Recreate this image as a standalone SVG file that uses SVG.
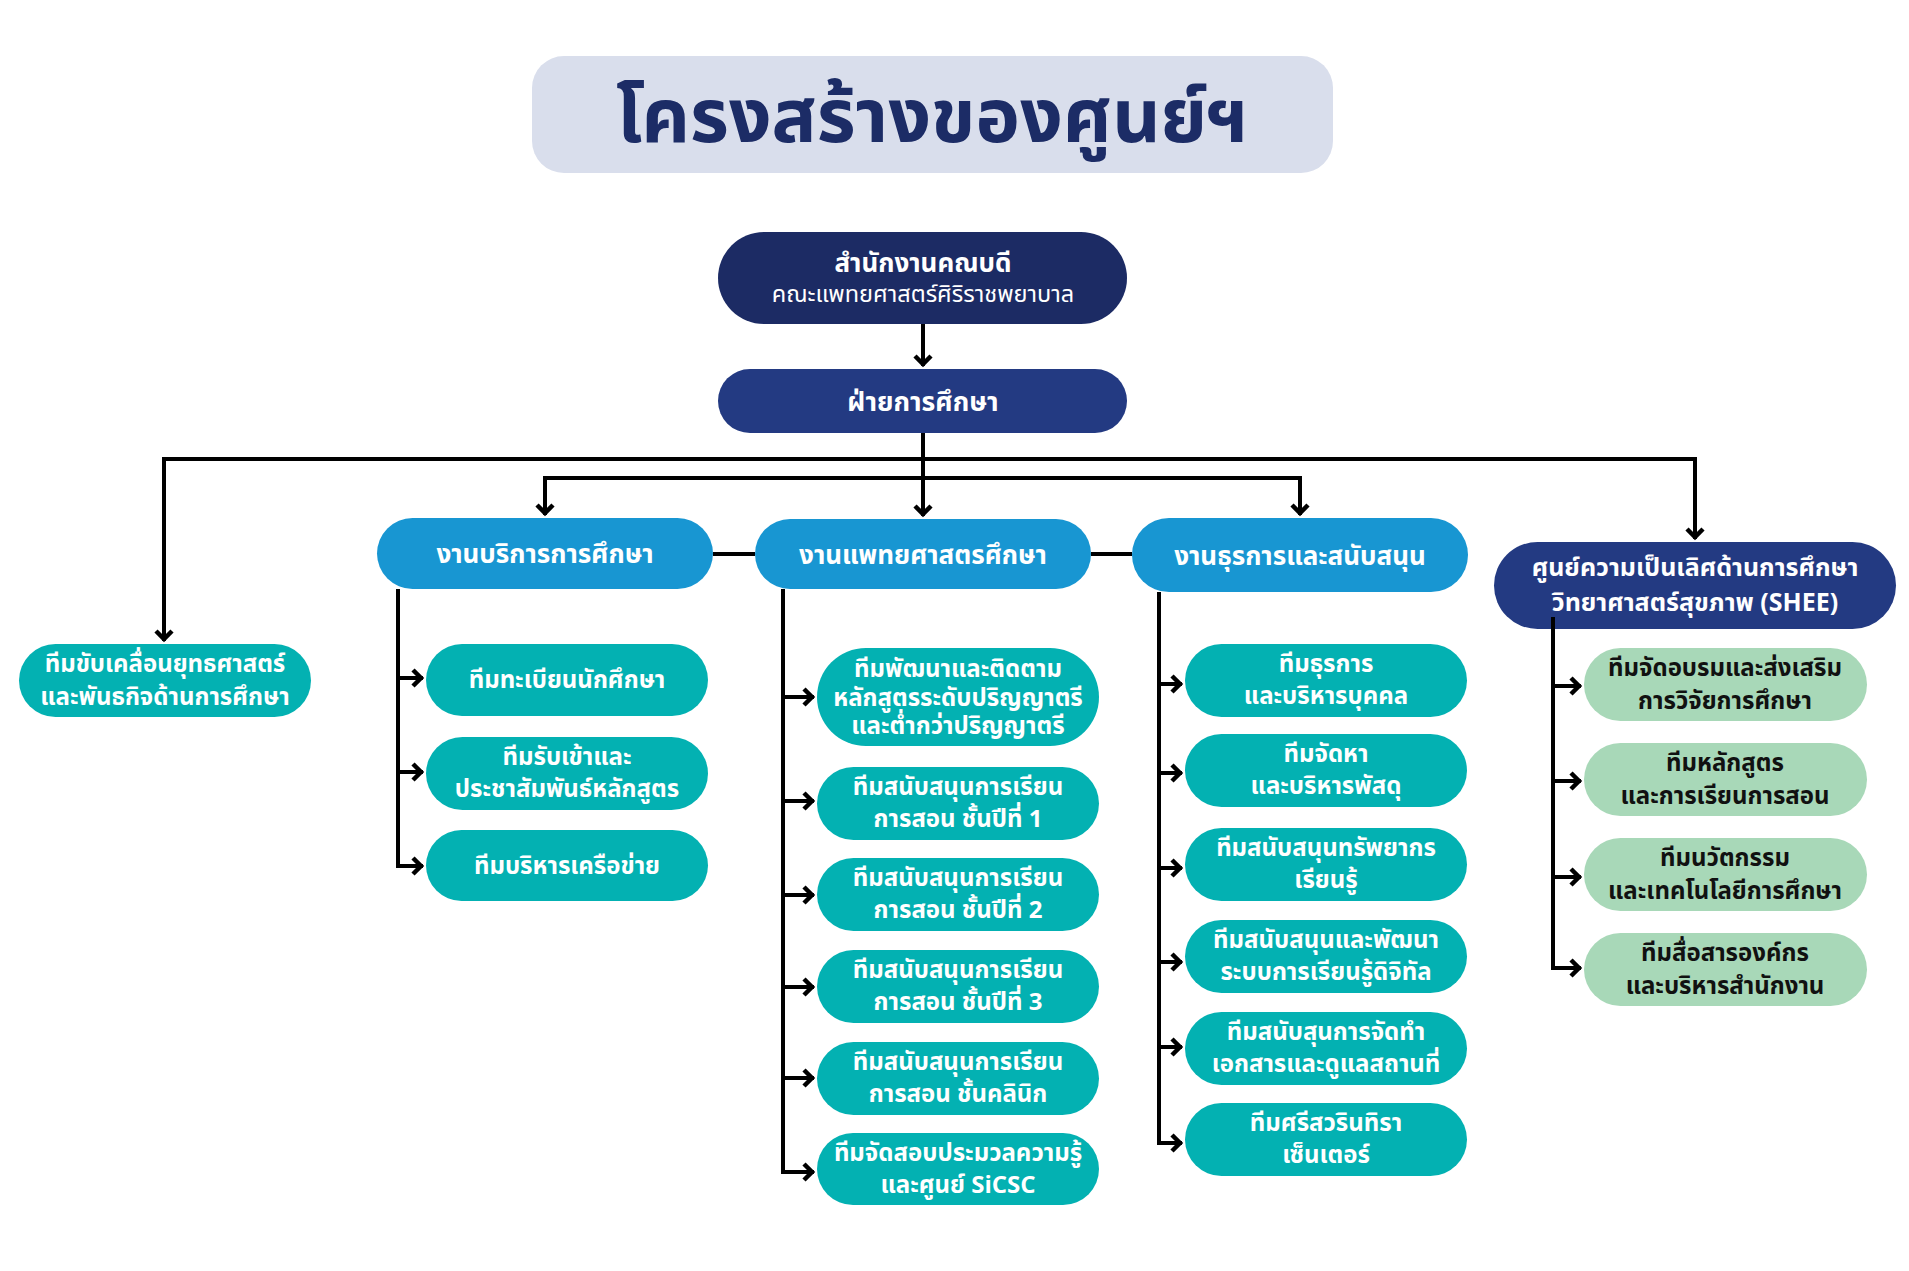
<svg xmlns="http://www.w3.org/2000/svg" width="1909" height="1271" viewBox="0 0 1909 1271">
<defs>
<marker id="arr" markerUnits="userSpaceOnUse" markerWidth="30" markerHeight="30" viewBox="-15 -15 30 30" refX="2" refY="0" orient="auto-start-reverse" overflow="visible">
<path d="M-8,-8 L0,0 L-8,8" fill="none" stroke="#000" stroke-width="4.5" stroke-linejoin="miter"/>
</marker>
</defs>
<style>
text{font-family:"Noto Sans Thai","Noto Sans Thai UI","Noto Sans","DejaVu Sans",sans-serif;text-anchor:middle;font-weight:700}
.w{fill:#fff}
.k{fill:#111}
.c{font-size:24px}
.h{font-size:26px}
.navy1{fill:#1C2B64}
.navy2{fill:#233A82}
.blue{fill:#1896D2}
.teal{fill:#03B1B2}
.green{fill:#A8D8B8}
.ln{fill:none;stroke:#000;stroke-width:4}
</style>
<rect width="1909" height="1271" fill="#fff"/>

<g id="title">
<rect x="532" y="56" width="801" height="117" rx="32" fill="#D9DEEC"/>
<text x="932" y="142" style="font-size:75px" fill="#1C2C66">โครงสร้างของศูนย์ฯ</text>
</g>

<g id="connectors">
<path class="ln" d="M923 324 V366" marker-end="url(#arr)"/>
<path class="ln" d="M923 433 V516" marker-end="url(#arr)"/>
<path class="ln" d="M164 641 V459 H1695 V539" marker-start="url(#arr)" marker-end="url(#arr)"/>
<path class="ln" d="M545 515 V478 H1300 V515" marker-start="url(#arr)" marker-end="url(#arr)"/>
<path class="ln" d="M713 554 H755"/>
<path class="ln" d="M1091 554 H1132"/>
<path class="ln" d="M398 589 V868"/>
<path class="ln" d="M398 678 H423" marker-end="url(#arr)"/>
<path class="ln" d="M398 772 H423" marker-end="url(#arr)"/>
<path class="ln" d="M398 866 H423" marker-end="url(#arr)"/>
<path class="ln" d="M783 589 V1174"/>
<path class="ln" d="M783 697 H814" marker-end="url(#arr)"/>
<path class="ln" d="M783 801 H814" marker-end="url(#arr)"/>
<path class="ln" d="M783 895 H814" marker-end="url(#arr)"/>
<path class="ln" d="M783 987 H814" marker-end="url(#arr)"/>
<path class="ln" d="M783 1078 H814" marker-end="url(#arr)"/>
<path class="ln" d="M783 1172 H814" marker-end="url(#arr)"/>
<path class="ln" d="M1159 592 V1145"/>
<path class="ln" d="M1159 684 H1182" marker-end="url(#arr)"/>
<path class="ln" d="M1159 773 H1182" marker-end="url(#arr)"/>
<path class="ln" d="M1159 868 H1182" marker-end="url(#arr)"/>
<path class="ln" d="M1159 962 H1182" marker-end="url(#arr)"/>
<path class="ln" d="M1159 1047 H1182" marker-end="url(#arr)"/>
<path class="ln" d="M1159 1143 H1182" marker-end="url(#arr)"/>
</g>

<g id="n-top">
<rect x="718" y="232" width="409" height="92" rx="46" class="navy1"/>
<text x="923" y="272" class="w" style="font-size:26px">สำนักงานคณบดี</text>
<text x="923" y="302" class="w" style="font-size:23.5px;font-weight:400">คณะแพทยศาสตร์ศิริราชพยาบาล</text>
</g>
<g id="n-edu">
<rect x="718" y="369" width="409" height="64" rx="32" class="navy2"/>
<text x="923" y="411" class="w" style="font-size:26.5px">ฝ่ายการศึกษา</text>
</g>

<g id="n-strategy">
<rect x="19" y="644" width="292" height="73" rx="36.5" class="teal"/>
<text x="165" y="672" class="w c">ทีมขับเคลื่อนยุทธศาสตร์</text>
<text x="165" y="705" class="w c">และพันธกิจด้านการศึกษา</text>
</g>

<g id="n-b1">
<rect x="377" y="518" width="336" height="71" rx="35.5" class="blue"/>
<text x="545" y="563" class="w h">งานบริการการศึกษา</text>
</g>
<g id="n-b2">
<rect x="755" y="519" width="336" height="70" rx="35" class="blue"/>
<text x="923" y="564" class="w h">งานแพทยศาสตรศึกษา</text>
</g>
<g id="n-b3">
<rect x="1132" y="518" width="336" height="74" rx="37" class="blue"/>
<text x="1300" y="565" class="w h">งานธุรการและสนับสนุน</text>
</g>
<g id="n-shee">
<rect x="1494" y="542" width="402" height="87" rx="43.5" class="navy2"/>
<text x="1695" y="576" class="w" style="font-size:25px">ศูนย์ความเป็นเลิศด้านการศึกษา</text>
<text x="1695" y="611" class="w" style="font-size:25px">วิทยาศาสตร์สุขภาพ (SHEE)</text>
</g>

<g id="n-b1-1">
<rect x="426" y="644" width="282" height="72" rx="36" class="teal"/>
<text x="567" y="688" class="w c">ทีมทะเบียนนักศึกษา</text>
</g>
<g id="n-b1-2">
<rect x="426" y="737" width="282" height="73" rx="36.5" class="teal"/>
<text x="567" y="765" class="w c">ทีมรับเข้าและ</text>
<text x="567" y="797" class="w c">ประชาสัมพันธ์หลักสูตร</text>
</g>
<g id="n-b1-3">
<rect x="426" y="830" width="282" height="71" rx="35.5" class="teal"/>
<text x="567" y="874" class="w c">ทีมบริหารเครือข่าย</text>
</g>

<g id="n-b2-1">
<rect x="817" y="648" width="282" height="98" rx="49" class="teal"/>
<text x="958" y="677" class="w c">ทีมพัฒนาและติดตาม</text>
<text x="958" y="706" class="w c">หลักสูตรระดับปริญญาตรี</text>
<text x="958" y="734" class="w c">และต่ำกว่าปริญญาตรี</text>
</g>
<g id="n-b2-2">
<rect x="817" y="767" width="282" height="73" rx="36.5" class="teal"/>
<text x="958" y="795" class="w c">ทีมสนับสนุนการเรียน</text>
<text x="958" y="827" class="w c">การสอน ชั้นปีที่ 1</text>
</g>
<g id="n-b2-3">
<rect x="817" y="858" width="282" height="73" rx="36.5" class="teal"/>
<text x="958" y="886" class="w c">ทีมสนับสนุนการเรียน</text>
<text x="958" y="918" class="w c">การสอน ชั้นปีที่ 2</text>
</g>
<g id="n-b2-4">
<rect x="817" y="950" width="282" height="73" rx="36.5" class="teal"/>
<text x="958" y="978" class="w c">ทีมสนับสนุนการเรียน</text>
<text x="958" y="1010" class="w c">การสอน ชั้นปีที่ 3</text>
</g>
<g id="n-b2-5">
<rect x="817" y="1042" width="282" height="73" rx="36.5" class="teal"/>
<text x="958" y="1070" class="w c">ทีมสนับสนุนการเรียน</text>
<text x="958" y="1102" class="w c">การสอน ชั้นคลินิก</text>
</g>
<g id="n-b2-6">
<rect x="817" y="1133" width="282" height="72" rx="36" class="teal"/>
<text x="958" y="1161" class="w c">ทีมจัดสอบประมวลความรู้</text>
<text x="958" y="1193" class="w c">และศูนย์ SiCSC</text>
</g>

<g id="n-b3-1">
<rect x="1185" y="644" width="282" height="73" rx="36.5" class="teal"/>
<text x="1326" y="672" class="w c">ทีมธุรการ</text>
<text x="1326" y="704" class="w c">และบริหารบุคคล</text>
</g>
<g id="n-b3-2">
<rect x="1185" y="734" width="282" height="73" rx="36.5" class="teal"/>
<text x="1326" y="762" class="w c">ทีมจัดหา</text>
<text x="1326" y="794" class="w c">และบริหารพัสดุ</text>
</g>
<g id="n-b3-3">
<rect x="1185" y="828" width="282" height="73" rx="36.5" class="teal"/>
<text x="1326" y="856" class="w c">ทีมสนับสนุนทรัพยากร</text>
<text x="1326" y="888" class="w c">เรียนรู้</text>
</g>
<g id="n-b3-4">
<rect x="1185" y="920" width="282" height="73" rx="36.5" class="teal"/>
<text x="1326" y="948" class="w c">ทีมสนับสนุนและพัฒนา</text>
<text x="1326" y="980" class="w c">ระบบการเรียนรู้ดิจิทัล</text>
</g>
<g id="n-b3-5">
<rect x="1185" y="1012" width="282" height="73" rx="36.5" class="teal"/>
<text x="1326" y="1040" class="w c">ทีมสนับสุนการจัดทำ</text>
<text x="1326" y="1072" class="w c">เอกสารและดูแลสถานที่</text>
</g>
<g id="n-b3-6">
<rect x="1185" y="1103" width="282" height="73" rx="36.5" class="teal"/>
<text x="1326" y="1131" class="w c">ทีมศรีสวรินทิรา</text>
<text x="1326" y="1163" class="w c">เซ็นเตอร์</text>
</g>

<g id="shee-connectors">
<path class="ln" d="M1553 617 V970"/>
<path class="ln" d="M1553 686 H1581" marker-end="url(#arr)"/>
<path class="ln" d="M1553 781 H1581" marker-end="url(#arr)"/>
<path class="ln" d="M1553 877 H1581" marker-end="url(#arr)"/>
<path class="ln" d="M1553 968 H1581" marker-end="url(#arr)"/>
</g>

<g id="n-s-1">
<rect x="1584" y="648" width="283" height="73" rx="36.5" class="green"/>
<text x="1725" y="676" class="k c">ทีมจัดอบรมและส่งเสริม</text>
<text x="1725" y="709" class="k c">การวิจัยการศึกษา</text>
</g>
<g id="n-s-2">
<rect x="1584" y="743" width="283" height="73" rx="36.5" class="green"/>
<text x="1725" y="771" class="k c">ทีมหลักสูตร</text>
<text x="1725" y="804" class="k c">และการเรียนการสอน</text>
</g>
<g id="n-s-3">
<rect x="1584" y="838" width="283" height="73" rx="36.5" class="green"/>
<text x="1725" y="866" class="k c">ทีมนวัตกรรม</text>
<text x="1725" y="899" class="k c">และเทคโนโลยีการศึกษา</text>
</g>
<g id="n-s-4">
<rect x="1584" y="933" width="283" height="73" rx="36.5" class="green"/>
<text x="1725" y="961" class="k c">ทีมสื่อสารองค์กร</text>
<text x="1725" y="994" class="k c">และบริหารสำนักงาน</text>
</g>
</svg>
